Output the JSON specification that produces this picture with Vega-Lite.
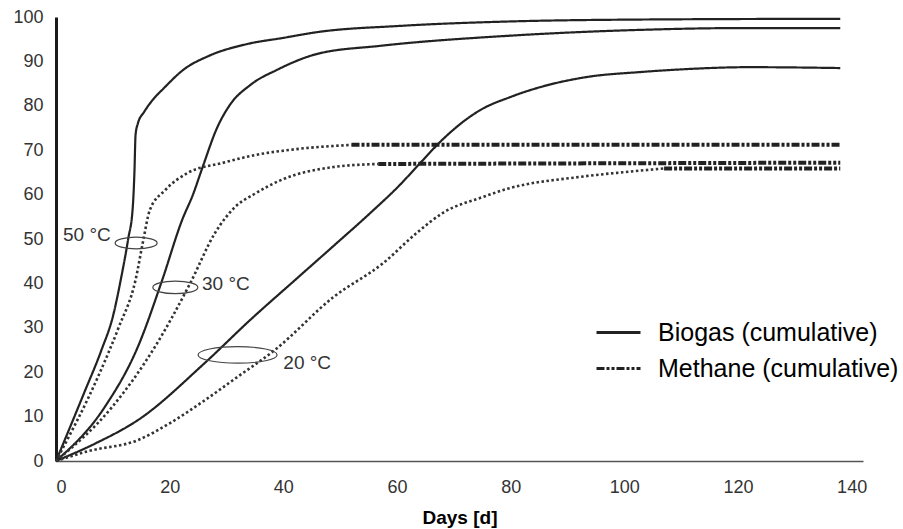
{
  "$schema": "https://vega.github.io/schema/vega-lite/v6.json",
  "width": 807,
  "height": 444,
  "autosize": {"type": "none"},
  "padding": {"left": 56, "top": 17, "right": 40, "bottom": 68},
  "background": "white",
  "config": {"view": {"stroke": null}, "font": "Liberation Sans"},
  "datasets": {
    "biogas": [
      {"gas": "Biogas (cumulative)", "temp": "50 °C", "day": 0, "pct": 0},
      {"gas": "Biogas (cumulative)", "temp": "50 °C", "day": 5, "pct": 15.5},
      {"gas": "Biogas (cumulative)", "temp": "50 °C", "day": 8, "pct": 25},
      {"gas": "Biogas (cumulative)", "temp": "50 °C", "day": 10, "pct": 32.5},
      {"gas": "Biogas (cumulative)", "temp": "50 °C", "day": 11.5, "pct": 41.5},
      {"gas": "Biogas (cumulative)", "temp": "50 °C", "day": 12.7, "pct": 50},
      {"gas": "Biogas (cumulative)", "temp": "50 °C", "day": 13.5, "pct": 57},
      {"gas": "Biogas (cumulative)", "temp": "50 °C", "day": 13.8, "pct": 65},
      {"gas": "Biogas (cumulative)", "temp": "50 °C", "day": 14.0, "pct": 73.5},
      {"gas": "Biogas (cumulative)", "temp": "50 °C", "day": 14.4, "pct": 76},
      {"gas": "Biogas (cumulative)", "temp": "50 °C", "day": 15.5, "pct": 78.6},
      {"gas": "Biogas (cumulative)", "temp": "50 °C", "day": 17, "pct": 81.3},
      {"gas": "Biogas (cumulative)", "temp": "50 °C", "day": 19, "pct": 84},
      {"gas": "Biogas (cumulative)", "temp": "50 °C", "day": 22.4, "pct": 88.1},
      {"gas": "Biogas (cumulative)", "temp": "50 °C", "day": 27, "pct": 91.3},
      {"gas": "Biogas (cumulative)", "temp": "50 °C", "day": 33.6, "pct": 93.9},
      {"gas": "Biogas (cumulative)", "temp": "50 °C", "day": 40, "pct": 95.3},
      {"gas": "Biogas (cumulative)", "temp": "50 °C", "day": 46, "pct": 96.6},
      {"gas": "Biogas (cumulative)", "temp": "50 °C", "day": 60.6, "pct": 98.0},
      {"gas": "Biogas (cumulative)", "temp": "50 °C", "day": 80, "pct": 99},
      {"gas": "Biogas (cumulative)", "temp": "50 °C", "day": 100, "pct": 99.4},
      {"gas": "Biogas (cumulative)", "temp": "50 °C", "day": 138, "pct": 99.6},
      {"gas": "Biogas (cumulative)", "temp": "30 °C", "day": 0, "pct": 0},
      {"gas": "Biogas (cumulative)", "temp": "30 °C", "day": 8.6, "pct": 12.2},
      {"gas": "Biogas (cumulative)", "temp": "30 °C", "day": 14.4, "pct": 25.7},
      {"gas": "Biogas (cumulative)", "temp": "30 °C", "day": 18.7, "pct": 40.8},
      {"gas": "Biogas (cumulative)", "temp": "30 °C", "day": 22.2, "pct": 54.3},
      {"gas": "Biogas (cumulative)", "temp": "30 °C", "day": 24.1, "pct": 60},
      {"gas": "Biogas (cumulative)", "temp": "30 °C", "day": 25.8, "pct": 66.2},
      {"gas": "Biogas (cumulative)", "temp": "30 °C", "day": 28.4, "pct": 75.2},
      {"gas": "Biogas (cumulative)", "temp": "30 °C", "day": 30.6, "pct": 80.2},
      {"gas": "Biogas (cumulative)", "temp": "30 °C", "day": 34.2, "pct": 84.7},
      {"gas": "Biogas (cumulative)", "temp": "30 °C", "day": 38.9, "pct": 88.1},
      {"gas": "Biogas (cumulative)", "temp": "30 °C", "day": 46, "pct": 91.7},
      {"gas": "Biogas (cumulative)", "temp": "30 °C", "day": 57, "pct": 93.5},
      {"gas": "Biogas (cumulative)", "temp": "30 °C", "day": 80, "pct": 95.8},
      {"gas": "Biogas (cumulative)", "temp": "30 °C", "day": 102.8, "pct": 97.1},
      {"gas": "Biogas (cumulative)", "temp": "30 °C", "day": 120, "pct": 97.5},
      {"gas": "Biogas (cumulative)", "temp": "30 °C", "day": 138, "pct": 97.5},
      {"gas": "Biogas (cumulative)", "temp": "20 °C", "day": 0, "pct": 0},
      {"gas": "Biogas (cumulative)", "temp": "20 °C", "day": 7, "pct": 4},
      {"gas": "Biogas (cumulative)", "temp": "20 °C", "day": 14.4, "pct": 9.2},
      {"gas": "Biogas (cumulative)", "temp": "20 °C", "day": 26.2, "pct": 22.1},
      {"gas": "Biogas (cumulative)", "temp": "20 °C", "day": 34.2, "pct": 31.8},
      {"gas": "Biogas (cumulative)", "temp": "20 °C", "day": 42.1, "pct": 40.8},
      {"gas": "Biogas (cumulative)", "temp": "20 °C", "day": 48.8, "pct": 48.4},
      {"gas": "Biogas (cumulative)", "temp": "20 °C", "day": 55, "pct": 55.5},
      {"gas": "Biogas (cumulative)", "temp": "20 °C", "day": 60.6, "pct": 62.3},
      {"gas": "Biogas (cumulative)", "temp": "20 °C", "day": 64, "pct": 67},
      {"gas": "Biogas (cumulative)", "temp": "20 °C", "day": 68.1, "pct": 72.5},
      {"gas": "Biogas (cumulative)", "temp": "20 °C", "day": 74.6, "pct": 79},
      {"gas": "Biogas (cumulative)", "temp": "20 °C", "day": 80, "pct": 82},
      {"gas": "Biogas (cumulative)", "temp": "20 °C", "day": 85.2, "pct": 84.2},
      {"gas": "Biogas (cumulative)", "temp": "20 °C", "day": 93.5, "pct": 86.5},
      {"gas": "Biogas (cumulative)", "temp": "20 °C", "day": 102.8, "pct": 87.6},
      {"gas": "Biogas (cumulative)", "temp": "20 °C", "day": 110, "pct": 88.2},
      {"gas": "Biogas (cumulative)", "temp": "20 °C", "day": 122, "pct": 88.7},
      {"gas": "Biogas (cumulative)", "temp": "20 °C", "day": 138, "pct": 88.5}
    ],
    "methane": [
      {"gas": "Methane (cumulative)", "temp": "50 °C", "segment": "dotted", "day": 0, "pct": 0},
      {"gas": "Methane (cumulative)", "temp": "50 °C", "segment": "dotted", "day": 7.4, "pct": 19},
      {"gas": "Methane (cumulative)", "temp": "50 °C", "segment": "dotted", "day": 11, "pct": 30},
      {"gas": "Methane (cumulative)", "temp": "50 °C", "segment": "dotted", "day": 14.0, "pct": 40.8},
      {"gas": "Methane (cumulative)", "temp": "50 °C", "segment": "dotted", "day": 15.4, "pct": 50},
      {"gas": "Methane (cumulative)", "temp": "50 °C", "segment": "dotted", "day": 16.5, "pct": 56.5},
      {"gas": "Methane (cumulative)", "temp": "50 °C", "segment": "dotted", "day": 19.2, "pct": 61},
      {"gas": "Methane (cumulative)", "temp": "50 °C", "segment": "dotted", "day": 23.2, "pct": 64.9},
      {"gas": "Methane (cumulative)", "temp": "50 °C", "segment": "dotted", "day": 29.2, "pct": 67.1},
      {"gas": "Methane (cumulative)", "temp": "50 °C", "segment": "dotted", "day": 35, "pct": 68.9},
      {"gas": "Methane (cumulative)", "temp": "50 °C", "segment": "dotted", "day": 42, "pct": 70.2},
      {"gas": "Methane (cumulative)", "temp": "50 °C", "segment": "dotted", "day": 52, "pct": 71.2},
      {"gas": "Methane (cumulative)", "temp": "50 °C", "segment": "dashed", "day": 52, "pct": 71.2},
      {"gas": "Methane (cumulative)", "temp": "50 °C", "segment": "dashed", "day": 138, "pct": 71.2},
      {"gas": "Methane (cumulative)", "temp": "30 °C", "segment": "dotted", "day": 0, "pct": 0},
      {"gas": "Methane (cumulative)", "temp": "30 °C", "segment": "dotted", "day": 9.9, "pct": 12.2},
      {"gas": "Methane (cumulative)", "temp": "30 °C", "segment": "dotted", "day": 17.4, "pct": 25.7},
      {"gas": "Methane (cumulative)", "temp": "30 °C", "segment": "dotted", "day": 23.6, "pct": 40},
      {"gas": "Methane (cumulative)", "temp": "30 °C", "segment": "dotted", "day": 28, "pct": 51.4},
      {"gas": "Methane (cumulative)", "temp": "30 °C", "segment": "dotted", "day": 31.5, "pct": 57.2},
      {"gas": "Methane (cumulative)", "temp": "30 °C", "segment": "dotted", "day": 35, "pct": 60.2},
      {"gas": "Methane (cumulative)", "temp": "30 °C", "segment": "dotted", "day": 40, "pct": 63.5},
      {"gas": "Methane (cumulative)", "temp": "30 °C", "segment": "dotted", "day": 48.8, "pct": 66.2},
      {"gas": "Methane (cumulative)", "temp": "30 °C", "segment": "dotted", "day": 56.7, "pct": 66.9},
      {"gas": "Methane (cumulative)", "temp": "30 °C", "segment": "dashed", "day": 56.7, "pct": 66.9},
      {"gas": "Methane (cumulative)", "temp": "30 °C", "segment": "dashed", "day": 138, "pct": 67.2},
      {"gas": "Methane (cumulative)", "temp": "20 °C", "segment": "dotted", "day": 0, "pct": 0},
      {"gas": "Methane (cumulative)", "temp": "20 °C", "segment": "dotted", "day": 5.6, "pct": 2.2},
      {"gas": "Methane (cumulative)", "temp": "20 °C", "segment": "dotted", "day": 14.4, "pct": 4.7},
      {"gas": "Methane (cumulative)", "temp": "20 °C", "segment": "dotted", "day": 20, "pct": 8.5},
      {"gas": "Methane (cumulative)", "temp": "20 °C", "segment": "dotted", "day": 26.2, "pct": 13.7},
      {"gas": "Methane (cumulative)", "temp": "20 °C", "segment": "dotted", "day": 32, "pct": 19},
      {"gas": "Methane (cumulative)", "temp": "20 °C", "segment": "dotted", "day": 38.5, "pct": 25},
      {"gas": "Methane (cumulative)", "temp": "20 °C", "segment": "dotted", "day": 48.8, "pct": 36.9},
      {"gas": "Methane (cumulative)", "temp": "20 °C", "segment": "dotted", "day": 57.6, "pct": 44.6},
      {"gas": "Methane (cumulative)", "temp": "20 °C", "segment": "dotted", "day": 63.5, "pct": 51.4},
      {"gas": "Methane (cumulative)", "temp": "20 °C", "segment": "dotted", "day": 68.1, "pct": 55.9},
      {"gas": "Methane (cumulative)", "temp": "20 °C", "segment": "dotted", "day": 75.2, "pct": 59.5},
      {"gas": "Methane (cumulative)", "temp": "20 °C", "segment": "dotted", "day": 79.4, "pct": 61.3},
      {"gas": "Methane (cumulative)", "temp": "20 °C", "segment": "dotted", "day": 92.3, "pct": 64},
      {"gas": "Methane (cumulative)", "temp": "20 °C", "segment": "dotted", "day": 102.8, "pct": 65.4},
      {"gas": "Methane (cumulative)", "temp": "20 °C", "segment": "dotted", "day": 107, "pct": 65.9},
      {"gas": "Methane (cumulative)", "temp": "20 °C", "segment": "dashed", "day": 107, "pct": 65.9},
      {"gas": "Methane (cumulative)", "temp": "20 °C", "segment": "dashed", "day": 138, "pct": 65.9}
    ],
    "ellipses": [
      {"temp": "50 °C", "day": 14.1, "pct": 49.1},
      {"temp": "30 °C", "day": 21.0, "pct": 39.1},
      {"temp": "20 °C", "day": 31.95, "pct": 23.9}
    ],
    "labels": [
      {"label": "50 °C", "day": 1.23, "pct": 51.0},
      {"label": "30 °C", "day": 25.7, "pct": 39.9},
      {"label": "20 °C", "day": 40.0, "pct": 22.0}
    ]
  },
  "layer": [
    {
      "data": {"name": "biogas"},
      "mark": {"type": "line", "strokeWidth": 2.2, "color": "#222", "interpolate": "monotone"},
      "encoding": {
        "x": {"field": "day", "type": "quantitative",
          "scale": {"domain": [0, 142], "nice": false, "zero": false},
          "axis": {"values": [0, 20, 40, 60, 80, 100, 120, 140], "title": "Days [d]", "grid": false, "ticks": false,
            "labelFontSize": 18, "labelColor": "#333", "labelPadding": 17,
            "domainColor": "#555", "domainWidth": 1.5,
            "titleFontSize": 19, "titleFontWeight": "bold", "titleColor": "#000", "titlePadding": 12}},
        "y": {"field": "pct", "type": "quantitative",
          "scale": {"domain": [0, 100], "nice": false},
          "axis": {"values": [0, 10, 20, 30, 40, 50, 60, 70, 80, 90, 100], "title": null, "grid": false, "ticks": false,
            "labelFontSize": 18, "labelColor": "#333", "labelPadding": 13,
            "domainColor": "#1a1a1a", "domainWidth": 3}},
        "detail": {"field": "temp"},
        "strokeDash": {"field": "gas", "type": "nominal",
          "scale": {"domain": ["Biogas (cumulative)", "Methane (cumulative)"], "range": [[1, 0], [8, 2, 3, 2, 3, 2]]},
          "legend": {"title": null, "orient": "none", "legendX": 550, "legendY": 303,
            "symbolType": "M-2,0H2", "symbolSize": 484, "symbolStrokeWidth": 3, "symbolStrokeColor": "#222",
            "labelFontSize": 25, "labelColor": "#000", "labelOffset": 27, "labelLimit": 400, "rowPadding": 10, "labelFont": "Liberation Sans"}}
      }
    },
    {
      "data": {"name": "methane"},
      "transform": [{"filter": "datum.segment === 'dotted'"}],
      "mark": {"type": "line", "strokeWidth": 2.6, "color": "#333", "strokeDash": [2.5, 2.5], "interpolate": "monotone"},
      "encoding": {
        "x": {"field": "day", "type": "quantitative"},
        "y": {"field": "pct", "type": "quantitative"},
        "detail": {"field": "temp"}
      }
    },
    {
      "data": {"name": "methane"},
      "transform": [{"filter": "datum.segment === 'dashed'"}],
      "mark": {"type": "line", "strokeWidth": 4, "color": "#222"},
      "encoding": {
        "x": {"field": "day", "type": "quantitative"},
        "y": {"field": "pct", "type": "quantitative"},
        "detail": {"field": "temp"},
        "strokeDash": {"field": "gas", "type": "nominal"}
      }
    },
    {
      "data": {"name": "ellipses"},
      "mark": {"type": "point", "filled": false, "strokeWidth": 1.2, "color": "#444", "opacity": 1},
      "encoding": {
        "x": {"field": "day", "type": "quantitative"},
        "y": {"field": "pct", "type": "quantitative"},
        "shape": {"field": "temp", "type": "nominal", "legend": null,
          "scale": {"domain": ["50 °C", "30 °C", "20 °C"],
            "range": ["M-1,0A1,0.28,0,1,0,1,0A1,0.28,0,1,0,-1,0Z", "M-1,0A1,0.28,0,1,0,1,0A1,0.28,0,1,0,-1,0Z", "M-1,0A1,0.21,0,1,0,1,0A1,0.21,0,1,0,-1,0Z"]}},
        "size": {"field": "temp", "type": "ordinal", "legend": null,
          "scale": {"type": "ordinal", "domain": ["50 °C", "30 °C", "20 °C"], "range": [1764, 2025, 6241]}}
      }
    },
    {
      "data": {"name": "labels"},
      "mark": {"type": "text", "align": "left", "baseline": "middle", "fontSize": 19, "color": "#333", "font": "Liberation Sans"},
      "encoding": {
        "x": {"field": "day", "type": "quantitative"},
        "y": {"field": "pct", "type": "quantitative"},
        "text": {"field": "label"}
      }
    }
  ]
}
